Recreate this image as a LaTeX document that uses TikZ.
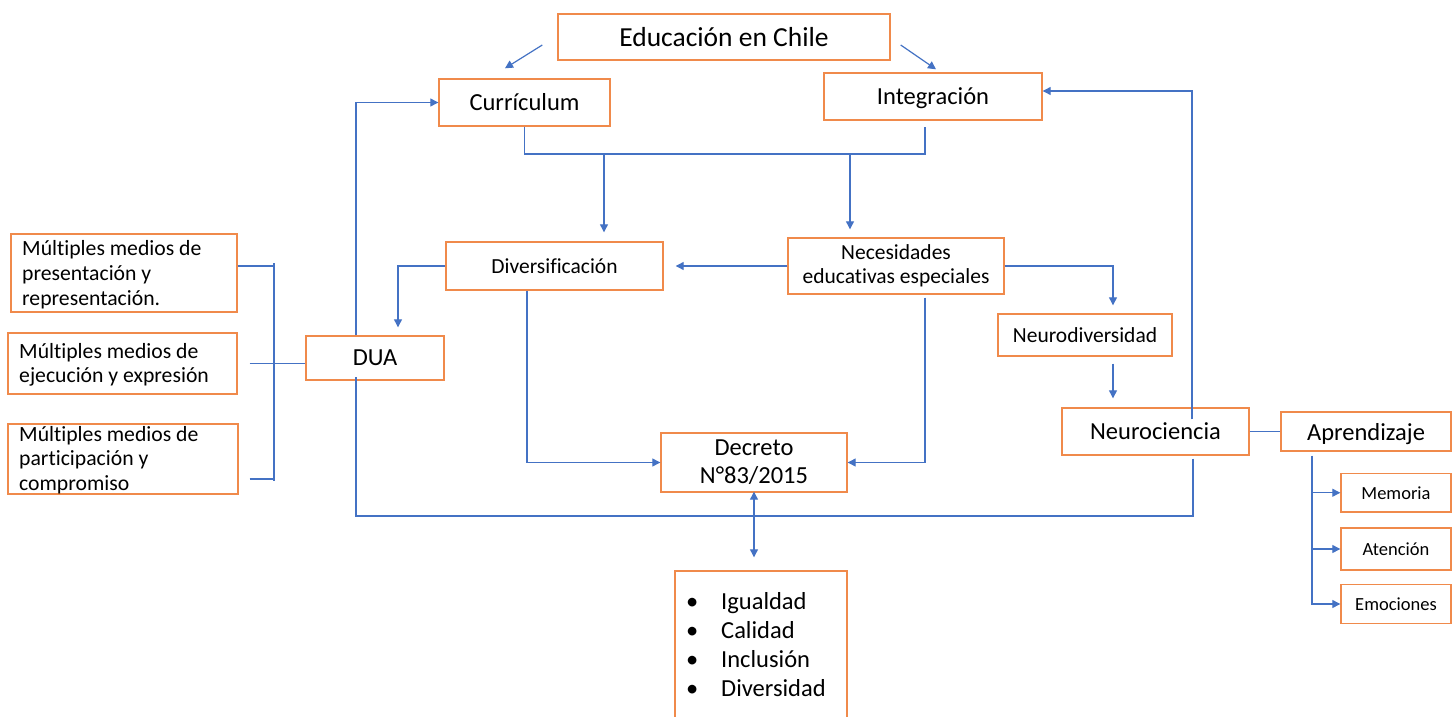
\documentclass[tikz,border=0pt]{standalone}
\usepackage{fontspec}
\setmainfont{Carlito}[Ligatures=NoCommon]
\usetikzlibrary{arrows.meta}
\definecolor{boxor}{RGB}{240,138,75}
\definecolor{lnblue}{RGB}{68,114,196}
\tikzset{
  box/.style={draw=boxor, line width=1.4pt, rectangle, inner sep=0pt, align=center},
  conn/.style={draw=lnblue, line width=1.2pt},
  tip/.tip={Triangle[length=8pt,width=8pt]},
  arr/.style={conn, -tip},
  fxl/.style={font=\fontsize{27.5}{33}\selectfont},
  fl/.style={font=\fontsize{24.5}{28}\selectfont},
  fm/.style={font=\fontsize{21.5}{24}\selectfont},
  fs/.style={font=\fontsize{18.5}{22}\selectfont},
  txt/.style={inner sep=0pt, anchor=base west},
  nodepth/.style={text depth=0pt},
}
\begin{document}
\begin{tikzpicture}[x=1pt,y=-1pt]
\fill[white] (0,0) rectangle (1452,717);
\useasboundingbox (0,0) rectangle (1452,717);

% boxes
\node[box, fxl, minimum width=332, minimum height=46] (edu) at (724,37) {Educación en Chile};
\node[box, fl, minimum width=171, minimum height=47] (cur) at (524.5,102.5) {Currículum};
\node[box, fl, nodepth, minimum width=218, minimum height=47] (int) at (933,96.5) {Integración};
\node[box, fm, minimum width=217, minimum height=48] (div) at (554.5,266) {Diversificación};
\node[box, fm, minimum width=216, minimum height=56] (nee) at (896,266) {Necesidades\\educativas especiales};
\node[box, fm, minimum width=174, minimum height=42] (neurod) at (1085,335) {Neurodiversidad};
\node[box, fl, minimum width=187, minimum height=47] (neuroc) at (1155.5,431.5) {Neurociencia};
\node[box, fl, nodepth, minimum width=170, minimum height=39] (apr) at (1366,431.5) {Aprendizaje};
\node[box, fs, minimum width=110, minimum height=38.5] (mem) at (1396,492.75) {Memoria};
\node[box, fs, minimum width=110, minimum height=42] (ate) at (1396,549) {Atención};
\node[box, fs, minimum width=110, minimum height=39] (emo) at (1396,604) {Emociones};
\node[box, fl, minimum width=138, minimum height=44] (dua) at (375,358) {DUA};
\node[box, fl, minimum width=186, minimum height=59] (dec) at (754,462.5) {Decreto\\N°83/2015};
\node[box, minimum width=226, minimum height=78] (lb1) at (124,273) {};
\node[box, minimum width=229, minimum height=61] (lb2) at (122.5,363.5) {};
\node[box, minimum width=230, minimum height=70] (lb3) at (123,459) {};
\begin{scope}
\clip (0,0) rectangle (1452,717);
\node[box, minimum width=172, minimum height=170] (list) at (761,656) {};
\end{scope}

% texts of the left boxes and the list
\node[txt, font=\fontsize{21.7}{25}\selectfont] (t1) at (22,255)
  {\begin{tabular}[t]{@{}l@{}}Múltiples medios de\\presentación y\\representación.\end{tabular}};
\node[txt, font=\fontsize{21.7}{24.5}\selectfont] (t2) at (19,358)
  {\begin{tabular}[t]{@{}l@{}}Múltiples medios de\\ejecución y expresión\end{tabular}};
\node[txt, font=\fontsize{21.7}{24.7}\selectfont] (t3) at (19,441)
  {\begin{tabular}[t]{@{}l@{}}Múltiples medios de\\participación y\\compromiso\end{tabular}};
\node[txt, font=\fontsize{24.5}{29.3}\selectfont] (tl) at (686,609)
  {\begin{tabular}[t]{@{}l@{}}\makebox[35pt][l]{•}Igualdad\\\makebox[35pt][l]{•}Calidad\\\makebox[35pt][l]{•}Inclusión\\\makebox[35pt][l]{•}Diversidad\end{tabular}};

% junction coordinates
\coordinate (j1) at (604,154);
\coordinate (j2) at (850,154);
\coordinate (jb) at (753,516);
\coordinate (bt) at (274,263);
\coordinate (bb) at (274,481);

% connectors
\draw[arr] ([xshift=-15,yshift=-8]edu.west) -- ([xshift=-19.5,yshift=10]cur.north);
\draw[arr] ([xshift=10,yshift=-8]edu.east) -- ([xshift=3,yshift=3]int.north);
\draw[conn] (cur.south) |- (j1) -- (j2) -| ([xshift=-8,yshift=-6]int.south);
\draw[arr, shorten >=9pt] (j1) -- (j1 |- div.north);
\draw[arr, shorten >=8pt] (j2) -- (j2 |- nee.north);
\draw[arr] ([xshift=-19]dua.north) |- (cur.west);
\draw[arr, shorten >=8pt] (div.west) -| ([xshift=23]dua.north);
\draw[arr, shorten >=12pt] (nee.west) -- (div.east);
\draw[arr, shorten >=8pt] (nee.east) -| ([xshift=28]neurod.north);
\draw[arr, shorten <=7pt, shorten >=9pt] ([xshift=28]neurod.south) -- ([xshift=28]neurod.south |- neuroc.north);
\draw[arr] ([xshift=36.5,yshift=-12]neuroc.north) |- ([yshift=5.5]int.east);
\draw[conn] ([xshift=37.5,yshift=-3]neuroc.south) |- (jb) -| ([xshift=-19,yshift=4]dua.south);
\draw[arr] ([xshift=-27.5]div.south) |- (dec.west);
\draw[arr] ([xshift=29,yshift=-3]nee.south) |- (dec.east);
\draw[conn, tip-tip, shorten >=13pt, shorten <=-1pt] (dec.south) -- (dec.south |- list.north);
\draw[conn] (neuroc.east) -- (apr.west);
\draw[arr] ([xshift=-54,yshift=-4]apr.south) |- (emo.west);
\draw[arr] ([xshift=-54]apr.south |- mem.west) -- (mem.west);
\draw[arr] ([xshift=-54]apr.south |- ate.west) -- (ate.west);
\draw[conn] ([yshift=7]lb1.east) -- ([yshift=7]lb1.east -| bt);
\draw[conn] (bt) -- (bb);
\draw[conn] ([xshift=12]lb2.east) -- (lb2.east -| dua.west);
\draw[conn] ([xshift=11,yshift=-20]lb3.east) -- ([yshift=-20]lb3.east -| bb);
\end{tikzpicture}
\end{document}
